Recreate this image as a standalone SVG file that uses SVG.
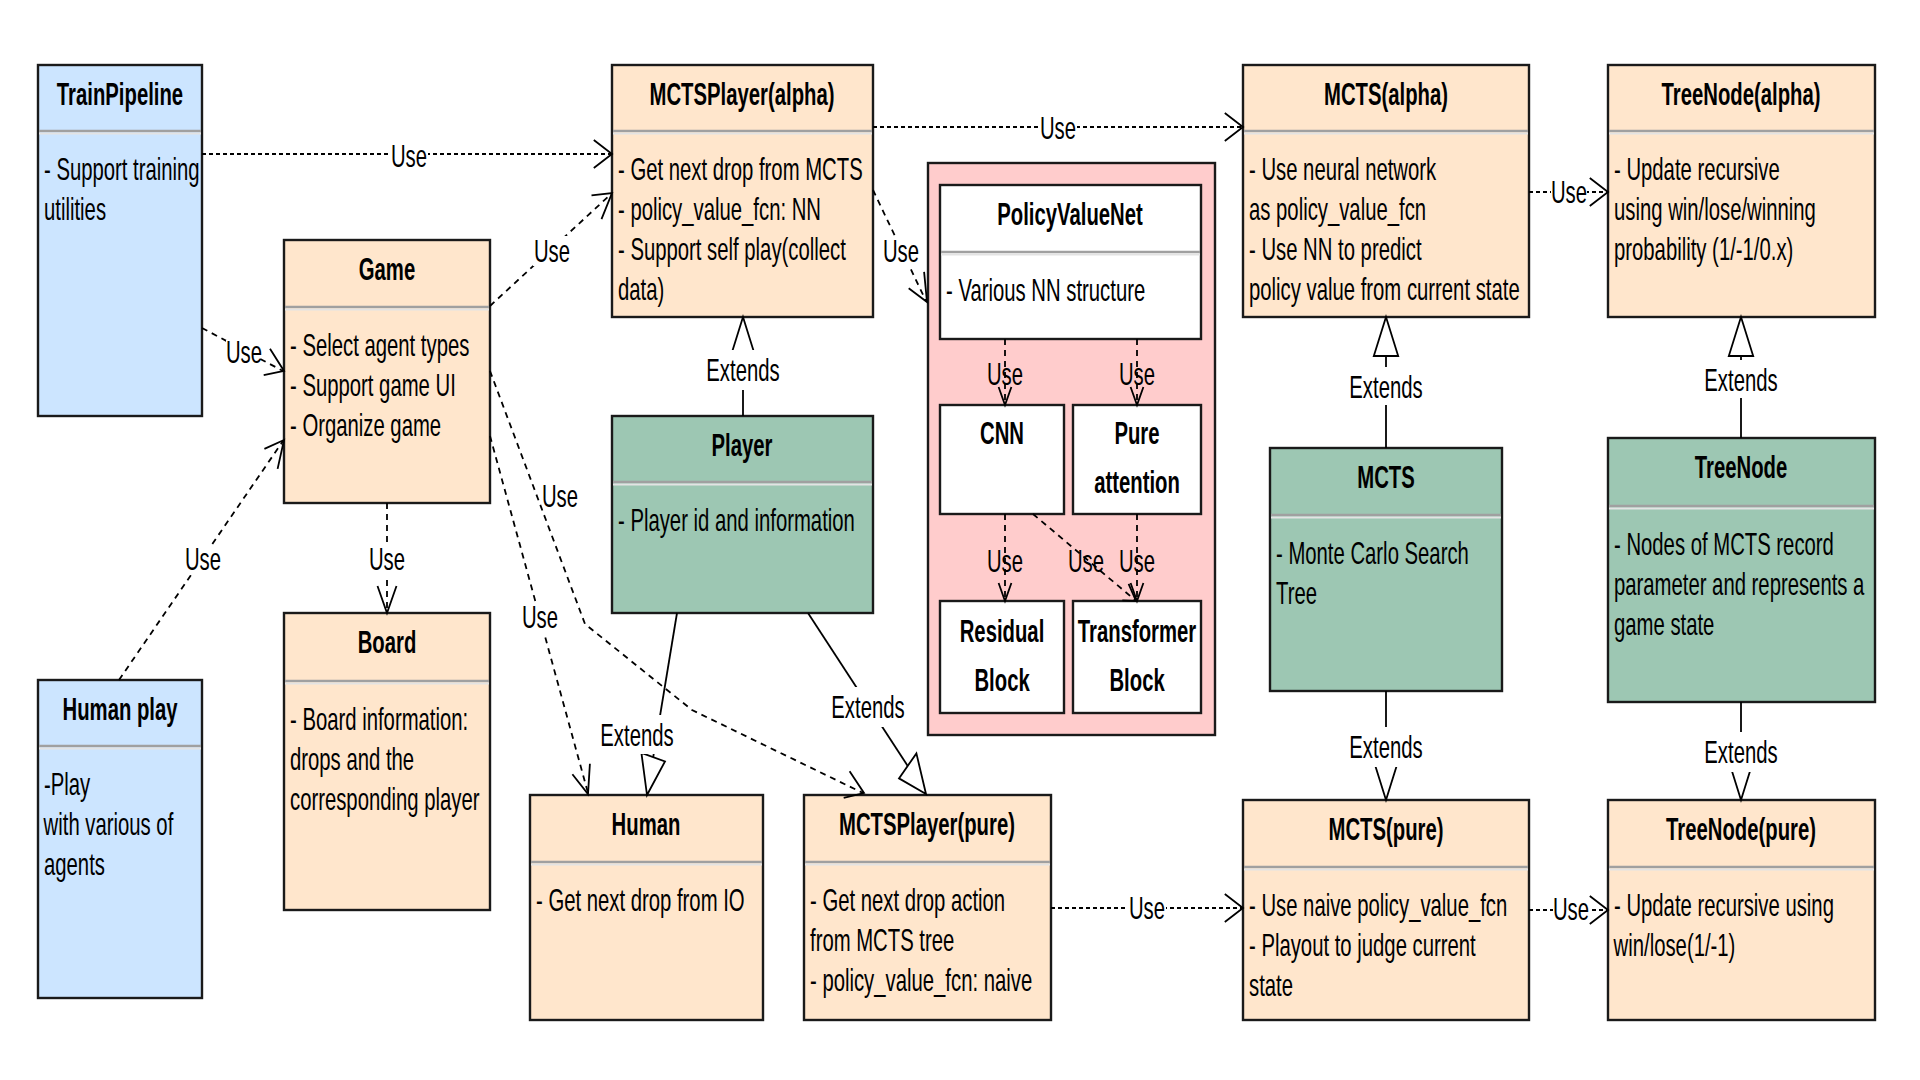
<svg xmlns="http://www.w3.org/2000/svg" width="1920" height="1080" viewBox="0 0 1920 1080">
<style>
text{font-family:"Liberation Sans",Arial,sans-serif;font-size:31px;fill:#000}
.t{font-weight:bold;text-anchor:middle;transform-box:fill-box;transform-origin:center;transform:scaleX(0.655)}
.b{text-anchor:start;transform-box:fill-box;transform-origin:left center;transform:scaleX(0.655)}
.l{text-anchor:middle;transform-box:fill-box;transform-origin:center;transform:scaleX(0.655)}
.box{stroke:#1a1a1a;stroke-width:2.4}
.peach{fill:#FFE6CC}.blue{fill:#CCE5FF}.green{fill:#9DC7B3}.pink{fill:#FFCCCC}.white{fill:#FFFFFF}
.sep{stroke:#a0a0a0;stroke-width:2.5}
.sep2{stroke:#e3e3e3;stroke-width:2}
.dot{fill:none;stroke:#000;stroke-width:2;stroke-dasharray:4 3}
.dash{fill:none;stroke:#000;stroke-width:1.8;stroke-dasharray:6 5}
.solid{fill:none;stroke:#000;stroke-width:1.8}
.open{fill:none;stroke:#000;stroke-width:1.8}
.tri{fill:#fff;stroke:#000;stroke-width:1.8}
.lb{fill:#fff}
</style>
<rect x="0" y="0" width="1920" height="1080" fill="#fff"/>

<g id="trainpipeline">
<rect class="box blue" x="38" y="65" width="164" height="351"/>
<line class="sep" x1="39" y1="131" x2="201" y2="131"/><line class="sep2" x1="39" y1="133.5" x2="201" y2="133.5"/>
<text class="t" x="120" y="105">TrainPipeline</text>
<text class="b" x="44" y="180">- Support training</text>
<text class="b" x="44" y="220">utilities</text>
</g>

<g id="game">
<rect class="box peach" x="284" y="240" width="206" height="263"/>
<line class="sep" x1="285" y1="307" x2="489" y2="307"/><line class="sep2" x1="285" y1="309.5" x2="489" y2="309.5"/>
<text class="t" x="387" y="280">Game</text>
<text class="b" x="290" y="356">- Select agent types</text>
<text class="b" x="290" y="396">- Support game UI</text>
<text class="b" x="290" y="436">- Organize game</text>
</g>

<g id="humanplay">
<rect class="box blue" x="38" y="680" width="164" height="318"/>
<line class="sep" x1="39" y1="746" x2="201" y2="746"/><line class="sep2" x1="39" y1="748.5" x2="201" y2="748.5"/>
<text class="t" x="120" y="720">Human play</text>
<text class="b" x="44" y="795">-Play</text>
<text class="b" x="44" y="835">with various of</text>
<text class="b" x="44" y="875">agents</text>
</g>

<g id="board">
<rect class="box peach" x="284" y="613" width="206" height="297"/>
<line class="sep" x1="285" y1="681" x2="489" y2="681"/><line class="sep2" x1="285" y1="683.5" x2="489" y2="683.5"/>
<text class="t" x="387" y="653">Board</text>
<text class="b" x="290" y="730">- Board information:</text>
<text class="b" x="290" y="770">drops and the</text>
<text class="b" x="290" y="810">corresponding player</text>
</g>

<g id="mctsplayer-alpha">
<rect class="box peach" x="612" y="65" width="261" height="252"/>
<line class="sep" x1="613" y1="131" x2="872" y2="131"/><line class="sep2" x1="613" y1="133.5" x2="872" y2="133.5"/>
<text class="t" x="742" y="105">MCTSPlayer(alpha)</text>
<text class="b" x="618" y="180">- Get next drop from MCTS</text>
<text class="b" x="618" y="220">- policy_value_fcn: NN</text>
<text class="b" x="618" y="260">- Support self play(collect</text>
<text class="b" x="618" y="300">data)</text>
</g>

<g id="player">
<rect class="box green" x="612" y="416" width="261" height="197"/>
<line class="sep" x1="613" y1="482" x2="872" y2="482"/><line class="sep2" x1="613" y1="484.5" x2="872" y2="484.5"/>
<text class="t" x="742" y="456">Player</text>
<text class="b" x="618" y="531">- Player id and information</text>
</g>

<g id="human">
<rect class="box peach" x="530" y="795" width="233" height="225"/>
<line class="sep" x1="531" y1="862" x2="762" y2="862"/><line class="sep2" x1="531" y1="864.5" x2="762" y2="864.5"/>
<text class="t" x="646" y="835">Human</text>
<text class="b" x="536" y="911">- Get next drop from IO</text>
</g>

<g id="mctsplayer-pure">
<rect class="box peach" x="804" y="795" width="247" height="225"/>
<line class="sep" x1="805" y1="862" x2="1050" y2="862"/><line class="sep2" x1="805" y1="864.5" x2="1050" y2="864.5"/>
<text class="t" x="927" y="835">MCTSPlayer(pure)</text>
<text class="b" x="810" y="911">- Get next drop action</text>
<text class="b" x="810" y="951">from MCTS tree</text>
<text class="b" x="810" y="991">- policy_value_fcn: naive</text>
</g>

<g id="nn-container">
<rect class="box pink" x="928" y="163" width="287" height="572"/>
</g>

<g id="policyvaluenet">
<rect class="box white" x="940" y="185" width="261" height="154"/>
<line class="sep" x1="941" y1="252" x2="1200" y2="252"/><line class="sep2" x1="941" y1="254.5" x2="1200" y2="254.5"/>
<text class="t" x="1070" y="225">PolicyValueNet</text>
<text class="b" x="946" y="301">- Various NN structure</text>
</g>

<g id="cnn">
<rect class="box white" x="940" y="405" width="124" height="109"/>
<text class="t" x="1002" y="444">CNN</text>
</g>

<g id="pure-attention">
<rect class="box white" x="1073" y="405" width="128" height="109"/>
<text class="t" x="1137" y="444">Pure</text>
<text class="t" x="1137" y="493">attention</text>
</g>

<g id="residual-block">
<rect class="box white" x="940" y="601" width="124" height="112"/>
<text class="t" x="1002" y="642">Residual</text>
<text class="t" x="1002" y="691">Block</text>
</g>

<g id="transformer-block">
<rect class="box white" x="1073" y="601" width="128" height="112"/>
<text class="t" x="1137" y="642">Transformer</text>
<text class="t" x="1137" y="691">Block</text>
</g>

<g id="mcts-alpha">
<rect class="box peach" x="1243" y="65" width="286" height="252"/>
<line class="sep" x1="1244" y1="131" x2="1528" y2="131"/><line class="sep2" x1="1244" y1="133.5" x2="1528" y2="133.5"/>
<text class="t" x="1386" y="105">MCTS(alpha)</text>
<text class="b" x="1249" y="180">- Use neural network</text>
<text class="b" x="1249" y="220">as policy_value_fcn</text>
<text class="b" x="1249" y="260">- Use NN to predict</text>
<text class="b" x="1249" y="300">policy value from current state</text>
</g>

<g id="treenode-alpha">
<rect class="box peach" x="1608" y="65" width="267" height="252"/>
<line class="sep" x1="1609" y1="131" x2="1874" y2="131"/><line class="sep2" x1="1609" y1="133.5" x2="1874" y2="133.5"/>
<text class="t" x="1741" y="105">TreeNode(alpha)</text>
<text class="b" x="1614" y="180">- Update recursive</text>
<text class="b" x="1614" y="220">using win/lose/winning</text>
<text class="b" x="1614" y="260">probability (1/-1/0.x)</text>
</g>

<g id="mcts">
<rect class="box green" x="1270" y="448" width="232" height="243"/>
<line class="sep" x1="1271" y1="515" x2="1501" y2="515"/><line class="sep2" x1="1271" y1="517.5" x2="1501" y2="517.5"/>
<text class="t" x="1386" y="488">MCTS</text>
<text class="b" x="1276" y="564">- Monte Carlo Search</text>
<text class="b" x="1276" y="604">Tree</text>
</g>

<g id="treenode">
<rect class="box green" x="1608" y="438" width="267" height="264"/>
<line class="sep" x1="1609" y1="506" x2="1874" y2="506"/><line class="sep2" x1="1609" y1="508.5" x2="1874" y2="508.5"/>
<text class="t" x="1741" y="478">TreeNode</text>
<text class="b" x="1614" y="555">- Nodes of MCTS record</text>
<text class="b" x="1614" y="595">parameter and represents a</text>
<text class="b" x="1614" y="635">game state</text>
</g>

<g id="mcts-pure">
<rect class="box peach" x="1243" y="800" width="286" height="220"/>
<line class="sep" x1="1244" y1="867" x2="1528" y2="867"/><line class="sep2" x1="1244" y1="869.5" x2="1528" y2="869.5"/>
<text class="t" x="1386" y="840">MCTS(pure)</text>
<text class="b" x="1249" y="916">- Use naive policy_value_fcn</text>
<text class="b" x="1249" y="956">- Playout to judge current</text>
<text class="b" x="1249" y="996">state</text>
</g>

<g id="treenode-pure">
<rect class="box peach" x="1608" y="800" width="267" height="220"/>
<line class="sep" x1="1609" y1="867" x2="1874" y2="867"/><line class="sep2" x1="1609" y1="869.5" x2="1874" y2="869.5"/>
<text class="t" x="1741" y="840">TreeNode(pure)</text>
<text class="b" x="1614" y="916">- Update recursive using</text>
<text class="b" x="1614" y="956">win/lose(1/-1)</text>
</g>

<g id="connectors">
<!-- TrainPipeline -> MCTSPlayer(alpha) -->
<line class="dot" x1="202" y1="154" x2="611" y2="154"/>
<polyline class="open" points="593.8,140 612,154 593.8,168"/>
<rect class="lb" x="390" y="141" width="38" height="30"/>
<text class="l" x="409" y="167">Use</text>

<!-- TrainPipeline -> Game -->
<line class="dash" x1="202" y1="328" x2="283" y2="371"/>
<polyline class="open" points="263.7,375.2 284,371 270,348.8"/>
<rect class="lb" x="226" y="340" width="34" height="26"/>
<text class="l" x="244" y="363">Use</text>

<!-- Game -> MCTSPlayer(alpha) -->
<line class="dash" x1="490" y1="306" x2="611" y2="194"/>
<polyline class="open" points="601.5,219.2 612,193 591.5,195.4"/>
<rect class="lb" x="533" y="236" width="38" height="30"/>
<text class="l" x="552" y="262">Use</text>

<!-- Human play -> Game -->
<line class="dash" x1="119" y1="680" x2="283" y2="441"/>
<polyline class="open" points="277.6,468.9 284,440 264.4,448.9"/>
<rect class="lb" x="184" y="545" width="38" height="30"/>
<text class="l" x="203" y="570">Use</text>

<!-- Game -> Board -->
<line class="dash" x1="387" y1="503" x2="387" y2="612"/>
<polyline class="open" points="377.5,586 387,613 396.5,586"/>
<rect class="lb" x="368" y="545" width="38" height="30"/>
<text class="l" x="387" y="570">Use</text>

<!-- Game -> Human -->
<line class="dash" x1="490" y1="436" x2="588" y2="793"/>
<polyline class="open" points="572.4,774.2 588,794 589.9,763.7"/>
<rect class="lb" x="521" y="603" width="38" height="30"/>
<text class="l" x="540" y="628">Use</text>

<!-- Game -> MCTSPlayer(pure) -->
<polyline class="dash" points="490,371 585,624 692,710 863,793"/>
<text class="l" x="560" y="507">Use</text>
<polyline class="open" points="843.7,797.9 864,793 849.6,771.3"/>

<!-- MCTSPlayer(alpha) -> PolicyValueNet -->
<line class="dash" x1="873" y1="190" x2="926" y2="301"/>
<polyline class="open" points="908.7,288.2 927,302 924.1,271.9"/>
<rect class="lb" x="882" y="237" width="38" height="30"/>
<text class="l" x="901" y="262">Use</text>

<!-- MCTSPlayer(alpha) -> MCTS(alpha) -->
<line class="dot" x1="873" y1="127" x2="1242" y2="127"/>
<polyline class="open" points="1224.8,113 1243,127 1224.8,141"/>
<rect class="lb" x="1039" y="114" width="38" height="30"/>
<text class="l" x="1058" y="139">Use</text>

<!-- MCTS(alpha) -> TreeNode(alpha) -->
<line class="dot" x1="1529" y1="192" x2="1607" y2="192"/>
<polyline class="open" points="1589.8,178 1608,192 1589.8,206"/>
<rect class="lb" x="1551" y="178" width="36" height="30"/>
<text class="l" x="1569" y="203">Use</text>

<!-- MCTSPlayer(pure) -> MCTS(pure) -->
<line class="dot" x1="1051" y1="908" x2="1242" y2="908"/>
<polyline class="open" points="1224.8,894 1243,908 1224.8,922"/>
<rect class="lb" x="1128" y="894" width="38" height="30"/>
<text class="l" x="1147" y="919">Use</text>

<!-- MCTS(pure) -> TreeNode(pure) -->
<line class="dot" x1="1529" y1="910" x2="1607" y2="910"/>
<polyline class="open" points="1589.8,896 1608,910 1589.8,924"/>
<rect class="lb" x="1553" y="896" width="36" height="30"/>
<text class="l" x="1571" y="920">Use</text>

<!-- inside NN container -->
<line class="dash" x1="1005" y1="339" x2="1005" y2="404"/>
<text class="l" x="1005" y="385">Use</text>
<polyline class="open" points="998.6,387 1005,405 1011.4,387"/>

<line class="dash" x1="1137" y1="339" x2="1137" y2="404"/>
<text class="l" x="1137" y="385">Use</text>
<polyline class="open" points="1130.6,387 1137,405 1143.4,387"/>

<line class="dash" x1="1005" y1="514" x2="1005" y2="600"/>
<text class="l" x="1005" y="572">Use</text>
<polyline class="open" points="998.6,583 1005,601 1011.4,583"/>

<line class="dash" x1="1137" y1="514" x2="1137" y2="600"/>
<text class="l" x="1137" y="572">Use</text>
<polyline class="open" points="1130.6,583 1137,601 1143.4,583"/>

<line class="dash" x1="1033" y1="514" x2="1135" y2="600"/>
<text class="l" x="1086" y="572">Use</text>
<polyline class="open" points="1122.3,600.3 1136,601 1128.6,583.8"/>

<!-- Extends: Player -> MCTSPlayer(alpha) -->
<line class="solid" x1="743" y1="416" x2="743" y2="356"/>
<polygon class="tri" points="743,317 755.2,356 730.8,356"/>
<rect class="lb" x="704" y="350" width="78" height="40"/>
<text class="l" x="743" y="381">Extends</text>

<!-- Extends: MCTS -> MCTS(alpha) -->
<line class="solid" x1="1386" y1="448" x2="1386" y2="356"/>
<polygon class="tri" points="1386,317 1398.2,356 1373.8,356"/>
<rect class="lb" x="1347" y="367" width="78" height="38"/>
<text class="l" x="1386" y="398">Extends</text>

<!-- Extends: TreeNode -> TreeNode(alpha) -->
<line class="solid" x1="1741" y1="438" x2="1741" y2="356"/>
<polygon class="tri" points="1741,317 1753.2,356 1728.8,356"/>
<rect class="lb" x="1702" y="360" width="78" height="38"/>
<text class="l" x="1741" y="391">Extends</text>

<!-- Extends: MCTS -> MCTS(pure) -->
<line class="solid" x1="1386" y1="691" x2="1386" y2="761"/>
<polygon class="tri" points="1386,800 1398.2,761 1373.8,761"/>
<rect class="lb" x="1347" y="727" width="78" height="40"/>
<text class="l" x="1386" y="758">Extends</text>

<!-- Extends: TreeNode -> TreeNode(pure) -->
<line class="solid" x1="1741" y1="702" x2="1741" y2="761"/>
<polygon class="tri" points="1741,800 1753.2,761 1728.8,761"/>
<rect class="lb" x="1702" y="732" width="78" height="40"/>
<text class="l" x="1741" y="763">Extends</text>

<!-- Extends: Player -> Human -->
<line class="solid" x1="677" y1="613" x2="653.2" y2="757.1"/>
<polygon class="tri" points="647,795 641.4,752.8 665,761.4"/>
<rect class="lb" x="598" y="715" width="78" height="39"/>
<text class="l" x="637" y="746">Extends</text>

<!-- Extends: Player -> MCTSPlayer(pure) -->
<line class="solid" x1="808" y1="613" x2="907.7" y2="765.9"/>
<polygon class="tri" points="926,794 899,778.4 916.4,753.4"/>
<rect class="lb" x="829" y="687" width="78" height="40"/>
<text class="l" x="868" y="718">Extends</text>
</g>
</svg>
